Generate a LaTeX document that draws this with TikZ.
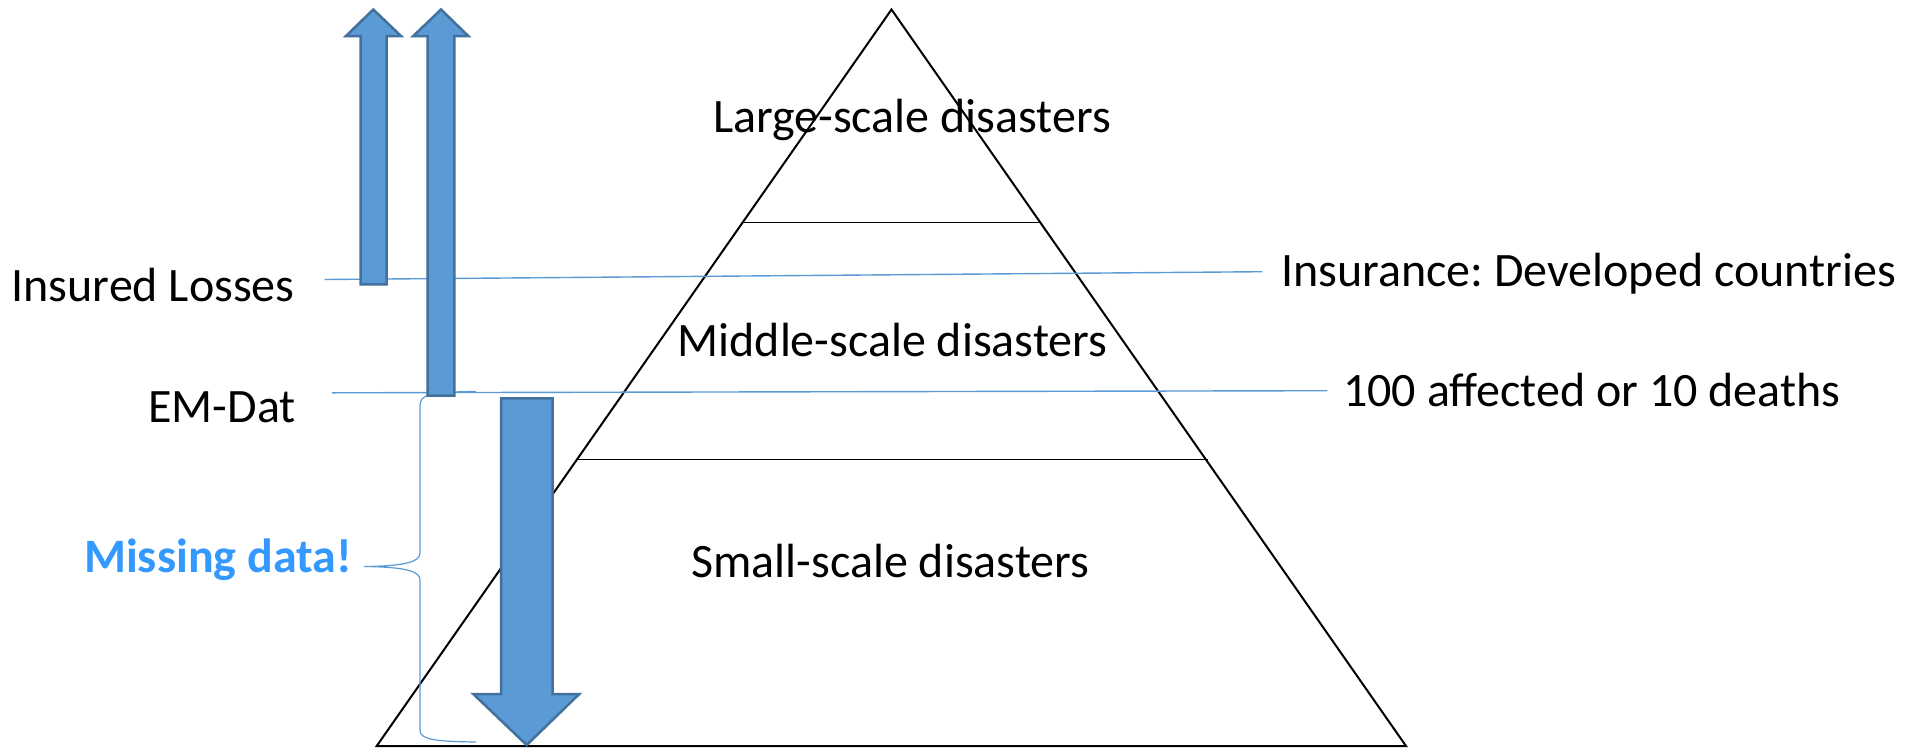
\documentclass[tikz,border=0pt]{standalone}
\usepackage{fontspec}
\setmainfont{Carlito}
\frenchspacing
\definecolor{leader}{HTML}{5B9BD5}
\definecolor{arrowfill}{HTML}{5B9BD5}
\definecolor{arrowedge}{HTML}{41719C}
\definecolor{missing}{HTML}{3399FF}
\begin{document}
\begin{tikzpicture}[x=1pt,y=-1pt,
  lbl/.style={inner sep=0pt,font=\fontsize{48}{53}\selectfont},
  leaderline/.style={draw=leader,line width=1.4pt},
  pyr/.style={draw=black,line width=2pt,line join=miter},
  tier/.style={draw=black,line width=1.4pt},
  fatarrow/.style={fill=arrowfill,draw=arrowedge,line width=2.5pt,line join=miter}]
\useasboundingbox[fill=white] (0,0) rectangle (1907,748);

% pyramid and its tiers
\coordinate (apex) at (891.5,9.5);
\coordinate (bl) at (376.7,746);
\coordinate (br) at (1406,746);
\draw[pyr] (apex) -- (bl) -- (br) -- cycle;
\coordinate (t1l) at (743,222.6);
\coordinate (t1r) at (1041,222.6);
\coordinate (t2l) at (575.7,459.5);
\coordinate (t2r) at (1207.7,459.5);
\draw[tier] (t1l) -- (t1r);
\draw[tier] (t2l) -- (t2r);

% tier labels
\node[lbl,anchor=base] (large) at (912,132.7) {Large-scale disasters};
\node[lbl,anchor=base] (middle) at (892.5,356.7) {Middle-scale disasters};
\node[lbl,anchor=base] (small) at (890.5,577.7) {Small-scale disasters};

% threshold labels and leader lines
\node[lbl,anchor=base west] (insured) at (11.5,301.7) {Insured Losses};
\node[lbl,anchor=base east] (emdat) at (296,422.7) {EM-Dat};
\node[lbl,anchor=base west] (insurance) at (1281,286) {Insurance: Developed countries};
\node[lbl,anchor=base west] (affected) at (1343,406.7) {100 affected or 10 deaths};
\coordinate (insL) at (324.7,279.5);
\coordinate (insR) at (1262.3,271.7);
\coordinate (emL) at (332,392.8);
\coordinate (emR) at (1327.3,390.7);
\draw[leaderline] (insL) -- (insR);
\draw[leaderline] (emL) -- (emR);

% brace around the missing range
\node[lbl,anchor=base west,font=\fontsize{48}{53}\selectfont\bfseries,text=missing] (miss) at (84,572.7) {Missing data!};
\coordinate (brTop) at (476,391.5);
\coordinate (brTip) at (364,566.5);
\coordinate (brBot) at (476,742);
\draw[leader,line width=1.2pt] (brTop) .. controls (430,392) and (420,394) .. (420,406)
  -- (420,553) .. controls (420,562) and (405,566) .. (brTip)
  .. controls (405,567) and (420,571) .. (420,580)
  -- (420,730) .. controls (420,739) and (432,741.5) .. (brBot);

% block arrows
\draw[fatarrow] (373.3,9.5) -- (401,36) -- (386.7,36) -- (386.7,284.3)
  -- (360.7,284.3) -- (360.7,36) -- (346,36) -- cycle;
\draw[fatarrow] (441,9.5) -- (468.3,36) -- (454.3,36) -- (454.3,395.7)
  -- (427.7,395.7) -- (427.7,36) -- (413.3,36) -- cycle;
\draw[fatarrow] (501,398.3) -- (552.7,398.3) -- (552.7,694) -- (579.3,694)
  -- (526.7,745) -- (473.3,694) -- (501,694) -- cycle;
\end{tikzpicture}
\end{document}
